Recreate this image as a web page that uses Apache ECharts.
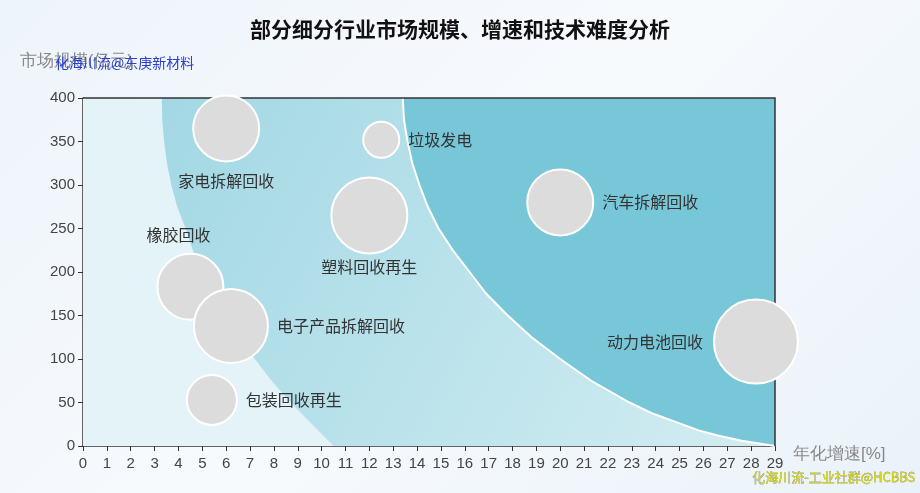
<!DOCTYPE html>
<html><head><meta charset="utf-8">
<script src="https://cdn.jsdelivr.net/npm/echarts@6/dist/echarts.min.js"></script>
<style>html,body{margin:0;padding:0;background:linear-gradient(135deg,#eef4fb,#f7fafd 50%,#eaf2f9);}#c{width:920px;height:493px;}</style>
</head><body><div id="c"></div>
<script>
var xTicks=[0,1,2,3,4,5,6,7,8,9,10,11,12,13,14,15,16,17,18,19,20,21,22,23,24,25,26,27,28,29];
var yTicks=[0,50,100,150,200,250,300,350,400];
var names=['家电拆解回收','垃圾发电','汽车拆解回收','塑料回收再生','橡胶回收','电子产品拆解回收','动力电池回收','包装回收再生'];
var growth=[6,12.5,20,12,4.5,6.2,28.2,5.4];
var scale=[365,352,280,265,183,138,120,53];
var bubbleR=[33,18,33,38,33,37,42,25];
// boundary curves (growth, scale)
var curve1=[[3.3,400],[3.32,375],[3.4,350],[3.52,325],[3.7,300],[3.95,275],[4.3,250],[4.6,225],[5.0,200],[5.5,175],[6.1,150],[6.6,125],[7.2,100],[7.9,75],[8.7,50],[9.6,25],[10.5,0]];
var curve2=[[13.4,400],[13.45,375],[13.6,350],[13.8,325],[14.1,300],[14.45,275],[14.9,250],[15.5,225],[16.2,200],[16.9,175],[17.8,150],[18.8,125],[20,100],[21.3,75],[22.9,50],[23.9,37],[25,26],[25.8,18],[26.6,12],[27.6,6],[29,0]];
var chart=echarts.init(document.getElementById('c'));
var labelPos=[
 {position:'bottom',distance:10},{position:'right',distance:8},{position:'right',distance:8},
 {position:'bottom',distance:4},{position:'top',distance:10,offset:[-12,0]},{position:'right',distance:8},
 {position:'left',distance:10},{position:'right',distance:8}];
var lbl={color:'#333',fontSize:16,fontFamily:'Noto Sans CJK SC'};
chart.setOption({
 title:{text:'部分细分行业市场规模、增速和技术难度分析',left:'center',top:14,textStyle:{fontSize:21,fontWeight:'bold',color:'#111',fontFamily:'Noto Sans CJK SC'}},
 grid:{left:83,right:145,top:98,bottom:47},
 xAxis:{type:'value',min:0,max:29,interval:1,name:'年化增速[%]',nameLocation:'end',nameGap:18,nameTextStyle:{color:'#888',fontSize:17,verticalAlign:'top'},
   axisLine:{lineStyle:{color:'#333',width:1.5}},axisTick:{lineStyle:{color:'#333'}},splitLine:{show:false},axisLabel:{color:'#444',fontSize:15,margin:10}},
 yAxis:{type:'value',min:0,max:400,interval:50,name:'市场规模(亿元)',nameGap:28,nameTextStyle:{color:'#888',fontSize:17,align:'right',padding:[0,-50,0,0]},
   axisLine:{show:true,lineStyle:{color:'#333',width:1.5}},axisTick:{show:true,lineStyle:{color:'#333'}},splitLine:{show:false},axisLabel:{color:'#444',fontSize:15}},
 graphic:[
  {type:'text',left:55,top:56,style:{text:'化海川流@东庚新材料',fill:'#2a3fcf',font:'14px "Noto Sans CJK SC"'},z:100},
  {type:'text',left:752,top:470,style:{text:'化海川流-工业社群@HCBBS',fill:'#d8d800',font:'13px "Noto Sans CJK SC"',stroke:'#555',lineWidth:0.3},z:100}
 ],
 series:[
  {type:'custom',silent:true,z:1,data:[0],renderItem:function(p,api){
    function pts(a){return a.map(function(d){return api.coord(d);});}
    return {type:'group',children:[
      {type:'polygon',shape:{points:pts([[0,0],[29,0],[29,400],[0,400]])},style:{fill:'#e4f3f7'}},
      {type:'polygon',shape:{points:pts(curve1.concat(curve2.slice().reverse()))},
        style:{fill:new echarts.graphic.LinearGradient(0,0,1,1,[{offset:0,color:'#a2d8e4'},{offset:1,color:'#d3edf2'}])}},
      {type:'polygon',shape:{points:pts(curve2.concat([[29,400]]))},style:{fill:'#78c7d9'}},
      {type:'polyline',shape:{points:pts(curve2)},style:{stroke:'#fff',lineWidth:2,fill:null}},
      {type:'polyline',shape:{points:pts([[0,400],[29,400],[29,0]])},style:{stroke:'#333',lineWidth:1.5,fill:null}}
    ]};
  }},
  {type:'scatter',z:5,data:names.map(function(n,i){return {name:n,value:[growth[i],scale[i]],symbolSize:bubbleR[i]*2,label:Object.assign({show:true,formatter:n},lbl,labelPos[i])};}),
   itemStyle:{color:'#dcdcdc',borderColor:'#fff',borderWidth:2,opacity:1}}
 ]
});
</script></body></html>
